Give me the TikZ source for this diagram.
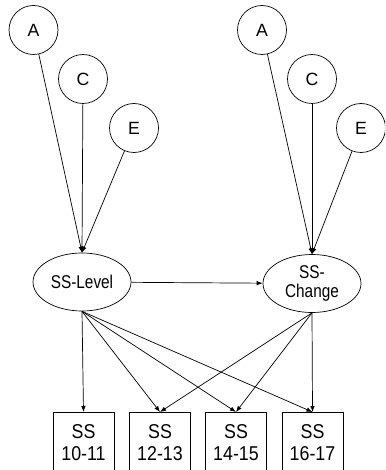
\documentclass[tikz,border=0pt]{standalone}
\usepackage{fontspec}
\setmainfont{Liberation Sans}
\newfontfamily\ellfont[FakeStretch=0.83]{Liberation Sans}
\newfontfamily\boxfont[FakeStretch=0.89]{Liberation Sans}
\usetikzlibrary{shapes.geometric,arrows.meta}
\begin{document}
\begin{tikzpicture}[x=1pt,y=-1pt,line width=0.7pt,
  lat/.style={draw,circle,minimum size=49pt,inner sep=0pt,font=\fontsize{17.7}{19}\selectfont},
  fac/.style={draw,ellipse,minimum width=98pt,minimum height=58pt,inner sep=0pt,align=center,font=\ellfont\fontsize{18.5}{18.6}\selectfont},
  obs/.style={draw,rectangle,minimum width=61pt,minimum height=60pt,inner sep=0pt,anchor=north,align=center,font=\boxfont\fontsize{20}{22.3}\selectfont},
  con/.style={-{Latex[length=6pt,width=4.5pt]}}]
\useasboundingbox (0,0) rectangle (385,470);
\begin{scope}
\clip (0,0) rectangle (385,470);
% left group
\node[lat] (A1) at (33.5,30) {A};
\node[lat] (C1) at (83,79) {C};
\node[lat] (E1) at (134,128) {E};
\node[fac] (L) at (82,282) {SS-Level};
% right group
\node[lat] (A2) at (262,30) {A};
\node[lat] (C2) at (312,79) {C};
\node[lat] (E2) at (361,128) {E};
\node[fac] (S) at (312,283.5) {SS-\\Change};
% boxes
\node[obs] (b1) at (83.5,412) {SS\\10-11};
\node[obs] (b2) at (160,412) {SS\\12-13};
\node[obs] (b3) at (236,412) {SS\\14-15};
\node[obs] (b4) at (312.5,412) {SS\\16-17};
% connectors
\draw[con] (A1) -- (L.north);
\draw[con] (C1) -- (L.north);
\draw[con] (E1) -- (L.north);
\draw[con] (A2) -- (S.north);
\draw[con] (C2) -- (S.north);
\draw[con] (E2) -- (S.north);
\draw[con] (L) -- (S);
\draw[con] (L.south) -- (b1.north);
\draw[con] (L.south) -- (b2.north);
\draw[con] (L.south) -- (b3.north);
\draw[con] (L.south) -- (b4.north);
\draw[con] (S.south) -- (b2.north);
\draw[con] (S.south) -- (b3.north);
\draw[con] (S.south) -- (b4.north);
\end{scope}
\end{tikzpicture}
\end{document}
